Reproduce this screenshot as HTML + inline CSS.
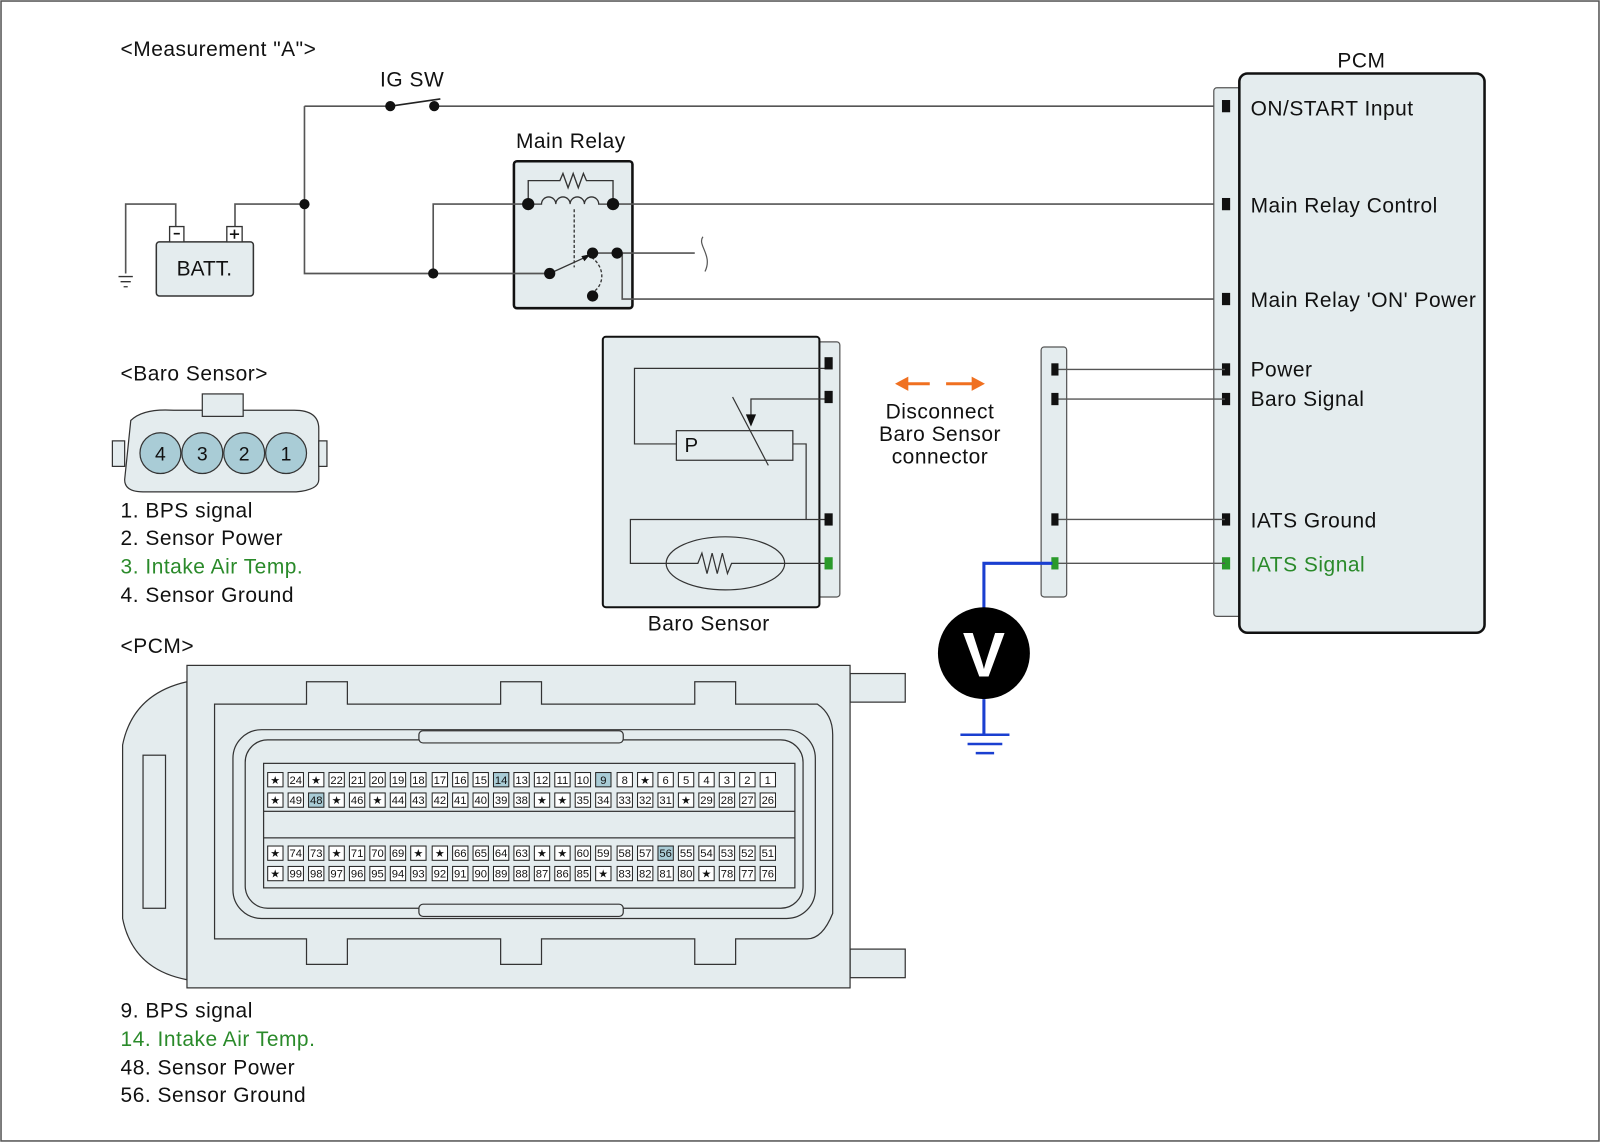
<!DOCTYPE html>
<html><head><meta charset="utf-8"><style>
html,body{margin:0;padding:0;background:#fff}
svg{display:block}
text{font-family:"Liberation Sans",Arial,sans-serif;fill:#111}
.big text,.big{font-size:20.5px;letter-spacing:0.5px}
.p rect{fill:#fff;stroke:#222;stroke-width:1}
.p text{font-size:11px;text-anchor:middle}
.hl{fill:#a9ccd6 !important}
</style></head><body>
<svg width="1600" height="1143" viewBox="0 0 1566 1120" preserveAspectRatio="none" xmlns="http://www.w3.org/2000/svg">
<rect x="1" y="1" width="1564" height="1117" fill="#fff" stroke="#555" stroke-width="1.5"/>
<g class="big">
<text x="118" y="55">&lt;Measurement "A"&gt;</text>
<text x="372" y="85">IG SW</text>
<text x="505" y="145">Main Relay</text>
<text x="1309" y="66">PCM</text>
<text x="118" y="373">&lt;Baro Sensor&gt;</text>
<text x="118" y="507">1. BPS signal</text>
<text x="118" y="534">2. Sensor Power</text>
<text x="118" y="562" style="fill:#2a8a2a">3. Intake Air Temp.</text>
<text x="118" y="590">4. Sensor Ground</text>
<text x="118" y="640">&lt;PCM&gt;</text>
<text x="118" y="997">9. BPS signal</text>
<text x="118" y="1025" style="fill:#2a8a2a">14. Intake Air Temp.</text>
<text x="118" y="1053">48. Sensor Power</text>
<text x="118" y="1080">56. Sensor Ground</text>
<text x="634" y="618">Baro Sensor</text>
<text x="920" y="410" text-anchor="middle">Disconnect</text>
<text x="920" y="432" text-anchor="middle">Baro Sensor</text>
<text x="920" y="454" text-anchor="middle">connector</text>
</g>
<!-- relay box first -->
<rect x="503" y="158" width="116" height="144" rx="3" fill="#e4ecee" stroke="#111" stroke-width="2.5"/>
<!-- wiring -->
<g stroke="#555" stroke-width="1.6" fill="none">
<path d="M298 104 H382 M425 104 H1190"/>
<path d="M382 104 L431 97" stroke="#222"/>
<path d="M298 104 V268 H538"/>
<path d="M230 222 V200 H298"/>
<path d="M172 222 V200 H123 V268"/>
<path d="M424 268 V200 H517"/>
<path d="M600 200 H1190"/>
<path d="M580 248 H680"/>
<path d="M688 232 C682 240,698 250,690 266" stroke-width="1.2"/>
<path d="M609 248 V293 H1190"/>
</g>
<g stroke="#333" stroke-width="1.3"><path d="M116 271 H130 M118 276 H128 M121 281 H125"/></g>
<!-- battery -->
<rect x="153" y="237" width="95" height="53" rx="3" fill="#e4ecee" stroke="#333" stroke-width="1.5"/>
<rect x="166" y="222" width="14" height="15" fill="#fff" stroke="#333" stroke-width="1.3"/>
<rect x="222" y="222" width="15" height="15" fill="#fff" stroke="#333" stroke-width="1.3"/>
<path d="M170 229 H176 M225 229.5 H234 M229.5 225 V234" stroke="#111" stroke-width="1.6"/>
<text x="200" y="270" font-size="20.5" text-anchor="middle">BATT.</text>
<g stroke="#333" stroke-width="1.3" fill="none">
<path d="M517 200 V177 H548 l3 -7 l5 14 l5 -14 l5 14 l5 -14 l3 7 H600 V200"/>
<path d="M517 200 H530 a7 7 0 0 1 14 0 a7 7 0 0 1 14 0 a7 7 0 0 1 14 0 a7 7 0 0 1 14 0 H600"/>
<path d="M562 205 V262" stroke-dasharray="3 2"/>
<path d="M579 252 C592 262,592 278,581 286" stroke-dasharray="3 2"/>
<path d="M538 268 L573 252"/>
</g>
<path d="M578 249 L569 251 L572 256 Z" fill="#111"/>
<g fill="#111">
<circle cx="298" cy="200" r="5"/><circle cx="424" cy="268" r="5"/>
<circle cx="382" cy="104" r="5"/><circle cx="425" cy="104" r="5"/>
<circle cx="517" cy="200" r="6"/><circle cx="600" cy="200" r="6"/>
<circle cx="538" cy="268" r="5.5"/><circle cx="580" cy="248" r="5.5"/><circle cx="604" cy="248" r="5.5"/>
<circle cx="580" cy="290" r="5.5"/>
</g>
<!-- PCM -->
<rect x="1188" y="86" width="30" height="518" rx="3" fill="#e4ecee" stroke="#555" stroke-width="1.2"/>
<rect x="1213" y="72" width="240" height="548" rx="8" fill="#e4ecee" stroke="#111" stroke-width="2.5"/>
<g fill="#111">
<rect x="1196" y="98" width="8" height="12"/><rect x="1196" y="194" width="8" height="12"/>
<rect x="1196" y="287" width="8" height="12"/><rect x="1196" y="356" width="8" height="12"/>
<rect x="1196" y="385" width="8" height="12"/><rect x="1196" y="503" width="8" height="12"/>
</g>
<rect x="1196" y="546" width="8" height="12" fill="#2a9a2a"/>
<g class="big">
<text x="1224" y="113">ON/START Input</text>
<text x="1224" y="208">Main Relay Control</text>
<text x="1224" y="301">Main Relay 'ON' Power</text>
<text x="1224" y="369">Power</text>
<text x="1224" y="398">Baro Signal</text>
<text x="1224" y="517">IATS Ground</text>
<text x="1224" y="560" style="fill:#2a8a2a">IATS Signal</text>
</g>
<!-- connector strip -->
<rect x="1019" y="340" width="25" height="245" rx="3" fill="#e4ecee" stroke="#555" stroke-width="1.2"/>
<g stroke="#555" stroke-width="1.3"><path d="M1032 362 H1199 M1032 391 H1199 M1032 509 H1199 M1032 552 H1199"/></g>
<g fill="#111"><rect x="1029" y="356" width="7" height="12"/><rect x="1029" y="385" width="7" height="12"/><rect x="1029" y="503" width="7" height="12"/></g>
<rect x="1029" y="546" width="7" height="12" fill="#2a9a2a"/>
<path d="M1030 552 H963 V600 M963 685 V720" stroke="#1a3fd0" stroke-width="3" fill="none"/>
<circle cx="963" cy="640" r="45" fill="#000"/>
<text x="963" y="663" font-size="62" font-weight="bold" text-anchor="middle" style="fill:#fff">V</text>
<path d="M940 720 H988 M947 729 H981 M955 738 H973" stroke="#1a3fd0" stroke-width="2.5"/>
<!-- orange arrows -->
<g stroke="#f07020" stroke-width="3"><path d="M886 376 H910 M926 376 H954"/></g>
<g fill="#f07020"><path d="M876 376 L889 369 L889 383 Z"/><path d="M964 376 L951 369 L951 383 Z"/></g>
<!-- baro sensor box -->
<rect x="800" y="335" width="22" height="250" rx="3" fill="#e4ecee" stroke="#555" stroke-width="1.2"/>
<rect x="590" y="330" width="212" height="265" rx="3" fill="#e4ecee" stroke="#111" stroke-width="2"/>
<g stroke="#333" stroke-width="1.2" fill="none">
<path d="M810 361 H621 V435 H662"/>
<rect x="662" y="422" width="114" height="29"/>
<path d="M717 389 L752 456"/>
<path d="M810 391 H735 V408"/>
<path d="M776 435 H789 V509"/>
<path d="M810 509 H617 V552 H683 l4 -10 l5 20 l5 -20 l5 20 l5 -20 l5 20 l4 -10 H810"/>
<ellipse cx="710" cy="552" rx="58" ry="26"/>
</g>
<path d="M735 418 L730 406 L740 406 Z" fill="#111"/>
<text x="670" y="443" font-size="20">P</text>
<g fill="#111"><rect x="807" y="350" width="8" height="12"/><rect x="807" y="383" width="8" height="12"/><rect x="807" y="503" width="8" height="12"/></g>
<rect x="807" y="546" width="8" height="12" fill="#2a9a2a"/>
<!-- baro connector drawing -->
<g stroke="#333" stroke-width="1.2" fill="#e4ecee">
<path d="M128 412 Q140 400 170 402 H288 Q312 402 312 420 V470 Q312 480 290 482 H140 Q122 482 122 470 Z"/>
<rect x="198" y="386" width="40" height="22"/>
<rect x="110" y="432" width="12" height="25"/><rect x="312" y="432" width="8" height="25"/>
</g>
<g stroke="#333" stroke-width="1.2" fill="#a9ccd6">
<circle cx="157" cy="444" r="20"/><circle cx="198" cy="444" r="20"/><circle cx="239" cy="444" r="20"/><circle cx="280" cy="444" r="20"/>
</g>
<g font-size="19" text-anchor="middle"><text x="157" y="451">4</text><text x="198" y="451">3</text><text x="239" y="451">2</text><text x="280" y="451">1</text></g>
<!-- PCM connector -->
<g stroke="#333" stroke-width="1.2" fill="#e4ecee">
<path d="M183 668 Q130 680 120 730 V900 Q130 950 183 960 Z"/>
<rect x="832" y="660" width="54" height="28"/><rect x="832" y="930" width="54" height="28"/>
<rect x="183" y="652" width="649" height="316"/>
<path d="M210 690 H300 V668 H340 V690 H490 V668 H530 V690 H680 V668 H720 V690 H800 Q815 700 815 720 V895 Q805 920 790 920 H720 V945 H680 V920 H530 V945 H490 V920 H340 V945 H300 V920 H210 Z"/>
<rect x="228" y="715" width="570" height="185" rx="28"/>
<rect x="240" y="725" width="546" height="165" rx="22"/>
<rect x="258" y="748" width="520" height="122" fill="#e4ecee"/>
<rect x="258" y="795" width="520" height="26"/>
<rect x="410" y="716" width="200" height="12" rx="4"/>
<rect x="410" y="886" width="200" height="12" rx="4"/>
<rect x="140" y="740" width="22" height="150"/>
</g>
<g class="p">
<rect x="262" y="757" width="15" height="14"/><text x="269.5" y="768">★</text>
<rect x="282" y="757" width="15" height="14"/><text x="289.5" y="768">24</text>
<rect x="302" y="757" width="15" height="14"/><text x="309.5" y="768">★</text>
<rect x="322" y="757" width="15" height="14"/><text x="329.5" y="768">22</text>
<rect x="342" y="757" width="15" height="14"/><text x="349.5" y="768">21</text>
<rect x="362" y="757" width="15" height="14"/><text x="369.5" y="768">20</text>
<rect x="382" y="757" width="15" height="14"/><text x="389.5" y="768">19</text>
<rect x="402" y="757" width="15" height="14"/><text x="409.5" y="768">18</text>
<rect x="423" y="757" width="15" height="14"/><text x="430.5" y="768">17</text>
<rect x="443" y="757" width="15" height="14"/><text x="450.5" y="768">16</text>
<rect x="463" y="757" width="15" height="14"/><text x="470.5" y="768">15</text>
<rect x="483" y="757" width="15" height="14" class="hl"/><text x="490.5" y="768">14</text>
<rect x="503" y="757" width="15" height="14"/><text x="510.5" y="768">13</text>
<rect x="523" y="757" width="15" height="14"/><text x="530.5" y="768">12</text>
<rect x="543" y="757" width="15" height="14"/><text x="550.5" y="768">11</text>
<rect x="563" y="757" width="15" height="14"/><text x="570.5" y="768">10</text>
<rect x="583" y="757" width="15" height="14" class="hl"/><text x="590.5" y="768">9</text>
<rect x="604" y="757" width="15" height="14"/><text x="611.5" y="768">8</text>
<rect x="624" y="757" width="15" height="14"/><text x="631.5" y="768">★</text>
<rect x="644" y="757" width="15" height="14"/><text x="651.5" y="768">6</text>
<rect x="664" y="757" width="15" height="14"/><text x="671.5" y="768">5</text>
<rect x="684" y="757" width="15" height="14"/><text x="691.5" y="768">4</text>
<rect x="704" y="757" width="15" height="14"/><text x="711.5" y="768">3</text>
<rect x="724" y="757" width="15" height="14"/><text x="731.5" y="768">2</text>
<rect x="744" y="757" width="15" height="14"/><text x="751.5" y="768">1</text>

<rect x="262" y="777" width="15" height="14"/><text x="269.5" y="788">★</text>
<rect x="282" y="777" width="15" height="14"/><text x="289.5" y="788">49</text>
<rect x="302" y="777" width="15" height="14" class="hl"/><text x="309.5" y="788">48</text>
<rect x="322" y="777" width="15" height="14"/><text x="329.5" y="788">★</text>
<rect x="342" y="777" width="15" height="14"/><text x="349.5" y="788">46</text>
<rect x="362" y="777" width="15" height="14"/><text x="369.5" y="788">★</text>
<rect x="382" y="777" width="15" height="14"/><text x="389.5" y="788">44</text>
<rect x="402" y="777" width="15" height="14"/><text x="409.5" y="788">43</text>
<rect x="423" y="777" width="15" height="14"/><text x="430.5" y="788">42</text>
<rect x="443" y="777" width="15" height="14"/><text x="450.5" y="788">41</text>
<rect x="463" y="777" width="15" height="14"/><text x="470.5" y="788">40</text>
<rect x="483" y="777" width="15" height="14"/><text x="490.5" y="788">39</text>
<rect x="503" y="777" width="15" height="14"/><text x="510.5" y="788">38</text>
<rect x="523" y="777" width="15" height="14"/><text x="530.5" y="788">★</text>
<rect x="543" y="777" width="15" height="14"/><text x="550.5" y="788">★</text>
<rect x="563" y="777" width="15" height="14"/><text x="570.5" y="788">35</text>
<rect x="583" y="777" width="15" height="14"/><text x="590.5" y="788">34</text>
<rect x="604" y="777" width="15" height="14"/><text x="611.5" y="788">33</text>
<rect x="624" y="777" width="15" height="14"/><text x="631.5" y="788">32</text>
<rect x="644" y="777" width="15" height="14"/><text x="651.5" y="788">31</text>
<rect x="664" y="777" width="15" height="14"/><text x="671.5" y="788">★</text>
<rect x="684" y="777" width="15" height="14"/><text x="691.5" y="788">29</text>
<rect x="704" y="777" width="15" height="14"/><text x="711.5" y="788">28</text>
<rect x="724" y="777" width="15" height="14"/><text x="731.5" y="788">27</text>
<rect x="744" y="777" width="15" height="14"/><text x="751.5" y="788">26</text>

<rect x="262" y="829" width="15" height="14"/><text x="269.5" y="840">★</text>
<rect x="282" y="829" width="15" height="14"/><text x="289.5" y="840">74</text>
<rect x="302" y="829" width="15" height="14"/><text x="309.5" y="840">73</text>
<rect x="322" y="829" width="15" height="14"/><text x="329.5" y="840">★</text>
<rect x="342" y="829" width="15" height="14"/><text x="349.5" y="840">71</text>
<rect x="362" y="829" width="15" height="14"/><text x="369.5" y="840">70</text>
<rect x="382" y="829" width="15" height="14"/><text x="389.5" y="840">69</text>
<rect x="402" y="829" width="15" height="14"/><text x="409.5" y="840">★</text>
<rect x="423" y="829" width="15" height="14"/><text x="430.5" y="840">★</text>
<rect x="443" y="829" width="15" height="14"/><text x="450.5" y="840">66</text>
<rect x="463" y="829" width="15" height="14"/><text x="470.5" y="840">65</text>
<rect x="483" y="829" width="15" height="14"/><text x="490.5" y="840">64</text>
<rect x="503" y="829" width="15" height="14"/><text x="510.5" y="840">63</text>
<rect x="523" y="829" width="15" height="14"/><text x="530.5" y="840">★</text>
<rect x="543" y="829" width="15" height="14"/><text x="550.5" y="840">★</text>
<rect x="563" y="829" width="15" height="14"/><text x="570.5" y="840">60</text>
<rect x="583" y="829" width="15" height="14"/><text x="590.5" y="840">59</text>
<rect x="604" y="829" width="15" height="14"/><text x="611.5" y="840">58</text>
<rect x="624" y="829" width="15" height="14"/><text x="631.5" y="840">57</text>
<rect x="644" y="829" width="15" height="14" class="hl"/><text x="651.5" y="840">56</text>
<rect x="664" y="829" width="15" height="14"/><text x="671.5" y="840">55</text>
<rect x="684" y="829" width="15" height="14"/><text x="691.5" y="840">54</text>
<rect x="704" y="829" width="15" height="14"/><text x="711.5" y="840">53</text>
<rect x="724" y="829" width="15" height="14"/><text x="731.5" y="840">52</text>
<rect x="744" y="829" width="15" height="14"/><text x="751.5" y="840">51</text>

<rect x="262" y="849" width="15" height="14"/><text x="269.5" y="860">★</text>
<rect x="282" y="849" width="15" height="14"/><text x="289.5" y="860">99</text>
<rect x="302" y="849" width="15" height="14"/><text x="309.5" y="860">98</text>
<rect x="322" y="849" width="15" height="14"/><text x="329.5" y="860">97</text>
<rect x="342" y="849" width="15" height="14"/><text x="349.5" y="860">96</text>
<rect x="362" y="849" width="15" height="14"/><text x="369.5" y="860">95</text>
<rect x="382" y="849" width="15" height="14"/><text x="389.5" y="860">94</text>
<rect x="402" y="849" width="15" height="14"/><text x="409.5" y="860">93</text>
<rect x="423" y="849" width="15" height="14"/><text x="430.5" y="860">92</text>
<rect x="443" y="849" width="15" height="14"/><text x="450.5" y="860">91</text>
<rect x="463" y="849" width="15" height="14"/><text x="470.5" y="860">90</text>
<rect x="483" y="849" width="15" height="14"/><text x="490.5" y="860">89</text>
<rect x="503" y="849" width="15" height="14"/><text x="510.5" y="860">88</text>
<rect x="523" y="849" width="15" height="14"/><text x="530.5" y="860">87</text>
<rect x="543" y="849" width="15" height="14"/><text x="550.5" y="860">86</text>
<rect x="563" y="849" width="15" height="14"/><text x="570.5" y="860">85</text>
<rect x="583" y="849" width="15" height="14"/><text x="590.5" y="860">★</text>
<rect x="604" y="849" width="15" height="14"/><text x="611.5" y="860">83</text>
<rect x="624" y="849" width="15" height="14"/><text x="631.5" y="860">82</text>
<rect x="644" y="849" width="15" height="14"/><text x="651.5" y="860">81</text>
<rect x="664" y="849" width="15" height="14"/><text x="671.5" y="860">80</text>
<rect x="684" y="849" width="15" height="14"/><text x="691.5" y="860">★</text>
<rect x="704" y="849" width="15" height="14"/><text x="711.5" y="860">78</text>
<rect x="724" y="849" width="15" height="14"/><text x="731.5" y="860">77</text>
<rect x="744" y="849" width="15" height="14"/><text x="751.5" y="860">76</text>
</g>
</svg>
</body></html>
